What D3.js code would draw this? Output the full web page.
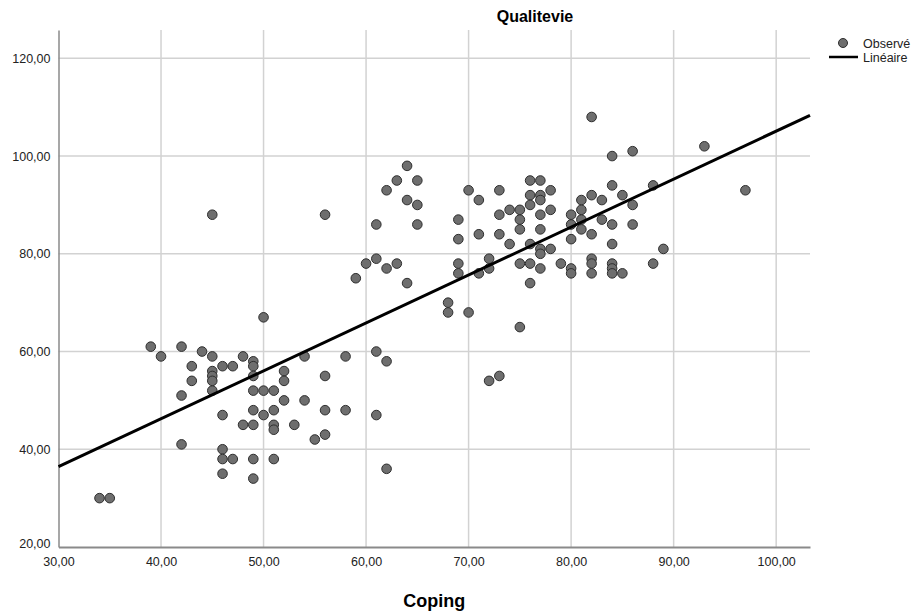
<!DOCTYPE html>
<html>
<head>
<meta charset="utf-8">
<script src="https://cdn.jsdelivr.net/npm/d3@7"></script>
<style>
  body { margin: 0; background: #fff; }
  text { font-family: "Liberation Sans", Arial, sans-serif; }
</style>
</head>
<body>
<div id="chart"></div>
<script>
// Coping (x) vs Qualitevie (y), observed scores
var coping = [
  34,35,39,40,42,44,45,43,46,47,48,49,49,49,
  45,45,45,45,43,42,52,52,52,49,50,51,
  46,49,50,51,48,49,51,51,53,
  42,46,46,47,49,51,46,49,50,45,
  54,58,61,62,56,54,56,58,61,55,56,62,56,
  59,60,61,61,62,62,63,64,63,65,64,64,65,65,
  68,68,70,69,69,69,69,70,71,71,71,72,72,73,73,73,72,73,75,
  74,75,75,75,74,76,77,76,77,77,76,78,78,77,77,76,77,77,78,75,76,77,79,76,
  80,80,80,80,80,81,81,81,81,82,82,83,83,82,82,82,
  84,85,86,84,86,84,84,84,84,85,88,88,89,
  82,84,86,93,97
];
var qualitevie = [
  30,30,61,59,61,60,59,57,57,57,59,58,57,55,
  56,55,54,52,54,51,56,54,50,52,52,52,
  47,48,47,48,45,45,45,44,45,
  41,40,38,38,38,38,35,34,67,88,
  59,59,60,58,55,50,48,48,47,42,43,36,88,
  75,78,79,86,93,77,78,74,95,95,98,91,90,86,
  70,68,68,76,78,83,87,93,91,84,76,79,77,93,88,84,54,55,65,
  89,89,87,85,82,95,95,92,92,91,90,93,89,88,85,82,81,80,81,78,78,77,78,74,
  88,86,83,77,76,91,89,87,85,92,84,91,87,79,78,76,
  94,92,90,86,86,82,78,77,76,76,94,78,81,
  108,100,101,102,93
];

// linear fit
var fitIntercept = 7.0;
var fitSlope = 0.981;

var xTicks = [30, 40, 50, 60, 70, 80, 90, 100];
var yTicks = [20, 40, 60, 80, 100, 120];

var W = 923, H = 615;
var margin = { top: 30, right: 113, bottom: 68, left: 58.5 };
var width = W - margin.left - margin.right,
    height = H - margin.top - margin.bottom;

var svg = d3.select("#chart").append("svg")
    .attr("width", W)
    .attr("height", H);

var g = svg.append("g")
    .attr("transform", "translate(" + margin.left + "," + margin.top + ")");

var x = d3.scaleLinear().domain([30, 103.3]).range([0, width]);
var y = d3.scaleLinear().domain([20, 125.8]).range([height, 0]);

var fmt = function(d) { return d3.format(".2f")(d).replace(".", ","); };

// gridlines
g.append("g").selectAll("line.vg").data(xTicks.slice(1)).enter()
    .append("line")
    .attr("x1", function(d) { return x(d); })
    .attr("x2", function(d) { return x(d); })
    .attr("y1", 0).attr("y2", height)
    .attr("stroke", "#d2d2d2").attr("stroke-width", 1.5);

g.append("g").selectAll("line.hg").data(yTicks.slice(1)).enter()
    .append("line")
    .attr("x1", 0).attr("x2", width)
    .attr("y1", function(d) { return y(d); })
    .attr("y2", function(d) { return y(d); })
    .attr("stroke", "#d2d2d2").attr("stroke-width", 1.5);

// axes
var xAxis = d3.axisBottom(x).tickValues(xTicks).tickSize(0).tickFormat(fmt);
var yAxis = d3.axisLeft(y).tickValues(yTicks).tickSize(0).tickFormat(fmt);

var gx = g.append("g")
    .attr("transform", "translate(0," + height + ")")
    .call(xAxis);
gx.select(".domain").attr("stroke", "#8a8a8a").attr("stroke-width", 2);
gx.selectAll("text")
    .attr("dy", "1.3em")
    .attr("fill", "#222")
    .style("font-size", "12.5px");

var gy = g.append("g").call(yAxis);
gy.select(".domain").attr("stroke", "#8a8a8a").attr("stroke-width", 1.5);
gy.selectAll("text")
    .attr("dx", "-0.4em")
    .attr("dy", function(d) { return d === 20 ? "0" : "0.32em"; })
    .attr("fill", "#222")
    .style("font-size", "12.5px");

// points
var pts = coping.map(function(c, i) { return { x: c, y: qualitevie[i] }; });
g.append("g").selectAll("circle").data(pts).enter()
    .append("circle")
    .attr("cx", function(d) { return x(d.x); })
    .attr("cy", function(d) { return y(d.y); })
    .attr("r", 4.8)
    .attr("fill", "#6e6e6e")
    .attr("stroke", "#2e2e2e")
    .attr("stroke-width", 1);

// fit line
var xd = x.domain();
g.append("line")
    .attr("x1", x(xd[0])).attr("y1", y(fitIntercept + fitSlope * xd[0]))
    .attr("x2", x(xd[1])).attr("y2", y(fitIntercept + fitSlope * xd[1]))
    .attr("stroke", "#000").attr("stroke-width", 3);

// titles
svg.append("text")
    .attr("x", 535).attr("y", 22)
    .attr("text-anchor", "middle")
    .style("font-size", "16px").style("font-weight", "bold")
    .text("Qualitevie");

svg.append("text")
    .attr("x", margin.left + width / 2).attr("y", 607)
    .attr("text-anchor", "middle")
    .style("font-size", "18px").style("font-weight", "bold")
    .text("Coping");

// legend
var lg = svg.append("g");
lg.append("circle").attr("cx", 843).attr("cy", 43).attr("r", 4.5)
    .attr("fill", "#6e6e6e").attr("stroke", "#2e2e2e");
lg.append("text").attr("x", 863).attr("y", 48)
    .style("font-size", "12.5px").attr("fill", "#222").text("Observé");
lg.append("line").attr("x1", 829).attr("x2", 858).attr("y1", 57).attr("y2", 57)
    .attr("stroke", "#000").attr("stroke-width", 2.5);
lg.append("text").attr("x", 863).attr("y", 62)
    .style("font-size", "12.5px").attr("fill", "#222").text("Linéaire");
</script>
</body>
</html>
